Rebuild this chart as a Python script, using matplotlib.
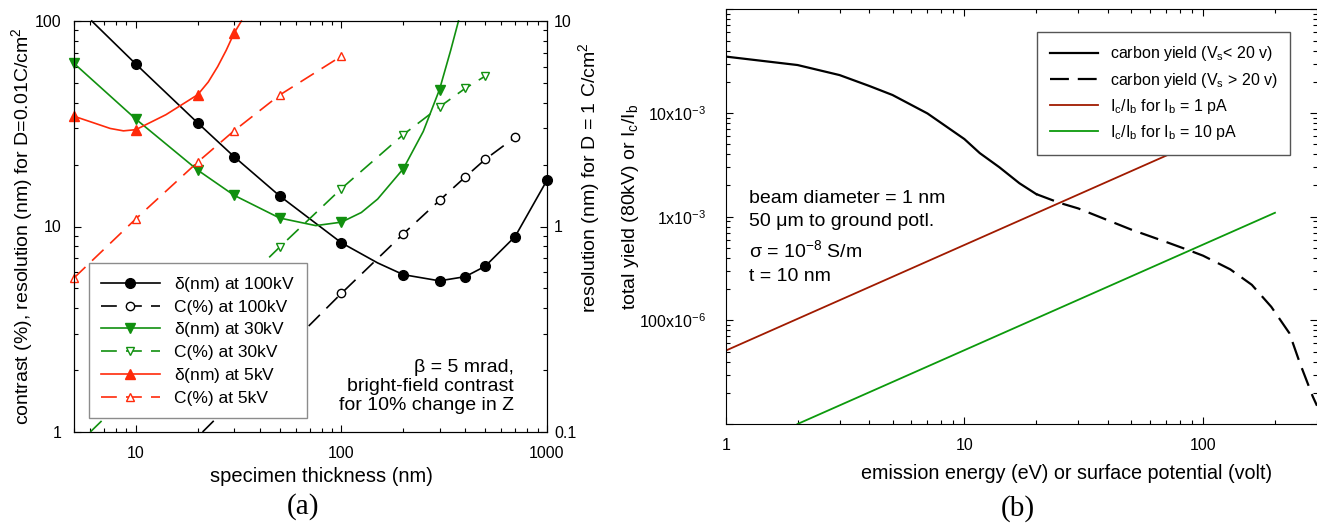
import numpy as np
import matplotlib
matplotlib.use('Agg')
import matplotlib.pyplot as plt
from matplotlib.lines import Line2D
from matplotlib.ticker import NullFormatter

plt.rcParams['font.family'] = ['Liberation Sans', 'DejaVu Sans']
plt.rcParams['mathtext.default'] = 'regular'

# ---- (a) resolution / contrast vs specimen thickness ----
# delta(nm) at 100 kV
t_d100 = [6.1, 10, 20, 30, 50, 100, 150, 200, 300, 400, 500, 700, 1000]
d100 = [100, 61.7, 31.9, 21.9, 14.1, 8.33, 6.65, 5.83, 5.44, 5.70, 6.40, 8.94, 16.8]
mk_d100 = [10, 20, 30, 50, 100, 200, 300, 400, 500, 700, 1000]
# C(%) at 100 kV
t_c100 = [21.1, 100, 200, 300, 400, 500, 700]
c100 = [1.0, 4.73, 9.21, 13.4, 17.4, 21.2, 27.2]
mk_c100 = [100, 200, 300, 400, 500, 700]
# delta(nm) at 30 kV
t_d30 = [5, 10, 20, 30, 50, 75, 100, 125, 150, 200, 250, 300, 340, 371]
d30 = [62.2, 33.3, 18.8, 14.2, 11.0, 10.1, 10.5, 11.7, 13.6, 19.1, 29.0, 46.4, 72.0, 100]
mk_d30 = [5, 10, 20, 30, 50, 100, 200, 300]
# C(%) at 30 kV
t_c30 = [6.0, 50, 100, 200, 300, 400, 500]
c30 = [1.0, 7.93, 15.3, 28.0, 38.2, 47.0, 53.9]
mk_c30 = [50, 100, 200, 300, 400, 500]
# delta(nm) at 5 kV
t_d5 = [5, 6.2, 7.5, 8.7, 10, 14, 20, 22.5, 25, 27.5, 30, 32.6]
d5 = [34.4, 32.0, 30.0, 29.2, 29.6, 35.0, 43.8, 50.5, 60.0, 72.0, 87.0, 100]
mk_d5 = [5, 10, 20, 30]
# C(%) at 5 kV
t_c5 = [5, 10, 20, 30, 50, 100]
c5 = [5.62, 10.9, 20.6, 29.2, 43.6, 67.5]
mk_c5 = [5, 10, 20, 30, 50, 100]

# ---- (b) yield and Ic/Ib vs energy ----
e_yield_lo = [1, 2, 3, 4, 5, 7, 10, 11.6, 14, 17, 20]
yield_lo = [0.035, 0.029, 0.0232, 0.0182, 0.0149, 0.0099, 0.0056, 0.0041, 0.0030, 0.0021, 0.00165]
e_yield_hi = [20, 25, 30, 50, 70, 88, 100, 130, 160, 193, 230, 254, 288, 300]
yield_hi = [0.00165, 1.36e-3, 1.2e-3, 7.5e-4, 5.7e-4, 4.7e-4, 4.2e-4, 3.1e-4, 2.2e-4,
            1.35e-4, 7.5e-5, 3.9e-5, 1.84e-5, 1.5e-5]
e_1pA = [1, 200]
ic_1pA = [5.1e-5, 1.13e-2]
e_10pA = [2, 200]
ic_10pA = [1.0e-5, 1.09e-3]

BLACK = 'black'
GREEN = '#11900f'
RED = '#ff2a0a'
DRED = '#a01a00'
GREEN2 = '#0c9a0c'

fig = plt.figure(figsize=(13.17, 5.24), dpi=100)

# ================= panel (a) =================
ax1 = fig.add_axes([74/1317, 92/524, 473/1317, 411/524])
ax1.set_xscale('log')
ax1.set_yscale('log')
ax1.set_xlim(5, 1000)
ax1.set_ylim(1, 100)

dash = (9.5, 5.5)
series = [
    (t_d100, d100, mk_d100, BLACK, '-', 'o', BLACK, r'$\delta$(nm) at 100kV'),
    (t_c100, c100, mk_c100, BLACK, '--', 'o', 'white', 'C(%) at 100kV'),
    (t_d30, d30, mk_d30, GREEN, '-', 'v', GREEN, r'$\delta$(nm) at 30kV'),
    (t_c30, c30, mk_c30, GREEN, '--', 'v', 'white', 'C(%) at 30kV'),
    (t_d5, d5, mk_d5, RED, '-', '^', RED, r'$\delta$(nm) at 5kV'),
    (t_c5, c5, mk_c5, RED, '--', '^', 'white', 'C(%) at 5kV'),
]
handles = []
for x, y, mk, col, ls, m, fc, lab in series:
    x = np.array(x)
    y = np.array(y)
    ln, = ax1.plot(x, y, color=col, ls=ls, lw=1.2, clip_on=False)
    if ls == '--':
        ln.set_dashes(dash)
    sel = np.isin(x, mk)
    ms = 7 if m == 'o' else 6.5
    if fc == 'white':
        ms -= 1
    ax1.plot(x[sel], y[sel], ls='none', marker=m, ms=ms, mfc=fc, mec=col,
             mew=1.0, clip_on=False, zorder=3)
    h = Line2D([], [], color=col, ls=ls, lw=1.2, marker=m, ms=ms, mfc=fc,
               mec=col, mew=1.0)
    if ls == '--':
        h.set_dashes(dash)
    handles.append(h)

ax1.set_xticks([10, 100, 1000], ['10', '100', '1000'])
ax1.set_yticks([1, 10, 100], ['1', '10', '100'])
ax1.xaxis.set_minor_formatter(NullFormatter())
ax1.yaxis.set_minor_formatter(NullFormatter())
ax1.tick_params(which='both', direction='in', top=True, right=False,
                labelsize=11.5, width=0.8)
ax1.tick_params(which='major', length=5)
ax1.tick_params(which='minor', length=3)
ax1.tick_params(axis='y', pad=9)
ax1.tick_params(axis='x', pad=10)

ax1r = ax1.twinx()
ax1r.set_yscale('log')
ax1r.set_ylim(0.1, 10)
ax1r.set_yticks([0.1, 1, 10], ['0.1', '1', '10'])
ax1r.yaxis.set_minor_formatter(NullFormatter())
ax1r.tick_params(which='both', direction='in', labelsize=11.5, width=0.8, pad=5)
ax1r.tick_params(which='major', length=5)
ax1r.tick_params(which='minor', length=3)

ax1.set_xlabel('specimen thickness (nm)', fontsize=14.5)
ax1.xaxis.set_label_coords(0.524, -0.085)
ax1.set_ylabel('contrast (%), resolution (nm) for D=0.01C/cm$^2$', fontsize=14)
ax1.yaxis.set_label_coords(-0.083, 0.5)
ax1r.set_ylabel('resolution (nm) for D = 1 C/cm$^2$', fontsize=14)
ax1r.yaxis.set_label_coords(1.061, 0.618)

leg1 = ax1.legend(handles, [s[7] for s in series], loc='lower left',
                  bbox_to_anchor=(0.031, 0.034), borderaxespad=0, fontsize=12.5,
                  handlelength=3.4, handletextpad=0.8, labelspacing=0.33,
                  borderpad=0.7, fancybox=False, framealpha=1, edgecolor='#8c8c8c')
leg1.get_frame().set_linewidth(1.0)
leg1.set_zorder(10)

ax1.text(0.93, 0.045, '\u03b2 = 5 mrad,\nbright-field contrast\nfor 10% change in Z',
         transform=ax1.transAxes, ha='right', va='bottom', fontsize=14,
         multialignment='right', linespacing=1.12)

fig.text(303/1317, 1 - 507/524, '(a)', ha='center', va='center',
         family='Liberation Serif', fontsize=21)

# ================= panel (b) =================
ax2 = fig.add_axes([725.7/1317, 100/524, (1317 - 725.7)/1317, 414.7/524])
ax2.set_xscale('log')
ax2.set_yscale('log')
ax2.set_xlim(1, 300)
ax2.set_ylim(1e-5, 1e-1)

ax2.plot(e_yield_lo, yield_lo, color=BLACK, lw=1.6, label='carbon yield (V$_s$< 20 v)')
ax2.plot(e_yield_hi, yield_hi, color=BLACK, lw=1.6, dashes=(8.5, 4),
         label='carbon yield (V$_s$ > 20 v)')
ax2.plot(e_1pA, ic_1pA, color=DRED, lw=1.3, label='I$_c$/I$_b$ for I$_b$ = 1 pA')
ax2.plot(e_10pA, ic_10pA, color=GREEN2, lw=1.3, label='I$_c$/I$_b$ for I$_b$ = 10 pA')

ax2.set_xticks([1, 10, 100], ['1', '10', '100'])
ax2.set_yticks([1e-5, 1e-4, 1e-3, 1e-2, 1e-1],
               ['', '100x10$^{-6}$', '1x10$^{-3}$', '10x10$^{-3}$', ''])
ax2.xaxis.set_minor_formatter(NullFormatter())
ax2.yaxis.set_minor_formatter(NullFormatter())
ax2.tick_params(which='both', direction='in', top=True, right=True,
                labelsize=11.5, width=0.8)
ax2.tick_params(which='major', length=5)
ax2.tick_params(which='minor', length=3)
ax2.tick_params(axis='y', pad=14)
ax2.tick_params(axis='x', pad=10)
ax2.spines['right'].set_visible(False)

ax2.set_xlabel('emission energy (eV) or surface potential (volt)', fontsize=14.2)
ax2.xaxis.set_label_coords(0.577, -0.097)
ax2.set_ylabel('total yield (80kV) or I$_c$/I$_b$', fontsize=14)
ax2.yaxis.set_label_coords(-0.143, 0.523)

leg2 = ax2.legend(loc='upper right', bbox_to_anchor=(0.955, 0.946), borderaxespad=0,
                  fontsize=11.5, handlelength=3.0, handletextpad=0.75,
                  labelspacing=0.45, borderpad=0.8, fancybox=False, framealpha=1,
                  edgecolor='#555555')
leg2.get_frame().set_linewidth(1.0)

ax2.text(0.039, 0.565,
         'beam diameter = 1 nm\n50 \u03bcm to ground potl.\n\u03c3 = 10$^{-8}$ S/m\nt = 10 nm',
         transform=ax2.transAxes, ha='left', va='top', fontsize=14, linespacing=1.5)

fig.text(1018/1317, 1 - 509/524, '(b)', ha='center', va='center',
         family='Liberation Serif', fontsize=21)

fig.savefig('out.png', dpi=100)
